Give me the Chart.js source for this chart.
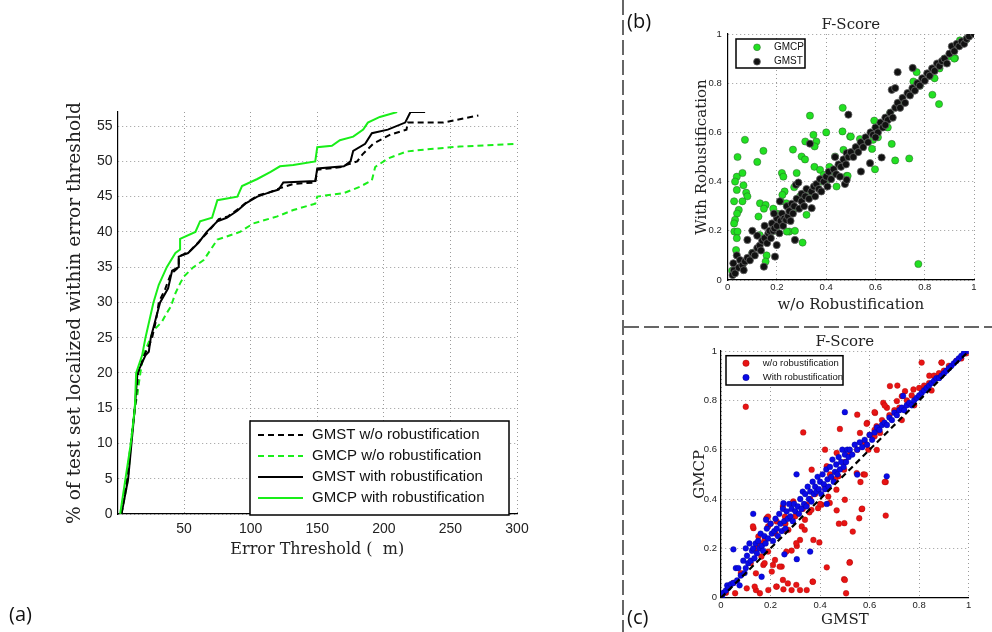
<!DOCTYPE html>
<html><head><meta charset="utf-8">
<script src="https://cdn.jsdelivr.net/npm/chart.js@4/dist/chart.umd.min.js"></script>
<style>
html,body{margin:0;padding:0;background:#fff;}
#wrap{position:relative;width:992px;height:632px;overflow:hidden;background:#fff;}
canvas{position:absolute;}
.lbl{position:absolute;font-family:"Open Sans","Noto Sans",sans-serif;font-size:20px;line-height:20px;color:#111;}
.vsep{position:absolute;left:622px;top:0;width:2px;height:632px;background:repeating-linear-gradient(to bottom,#666 0 15px,transparent 15px 20px);}
.hsep{position:absolute;left:624px;top:326px;width:368px;height:2px;background:repeating-linear-gradient(to right,#666 0 15px,transparent 15px 20px);}
</style></head>
<body><div id="wrap">
<canvas id="ca" width="600" height="632" style="left:0;top:0;width:600px;height:632px"></canvas>
<canvas id="cb" width="352" height="327" style="left:640px;top:0;width:352px;height:327px"></canvas>
<canvas id="cc" width="352" height="305" style="left:640px;top:327px;width:352px;height:305px"></canvas>
<div class="vsep"></div><div class="hsep"></div>
<div class="lbl" style="left:9px;top:604px">(a)</div>
<div class="lbl" style="left:627px;top:11px">(b)</div>
<div class="lbl" style="left:627px;top:607px">(c)</div>
</div>
<script>
// ---------- Panel (a): cumulative localization curves ----------
const xTicksA = [50,100,150,200,250,300];
const yTicksA = [0,5,10,15,20,25,30,35,40,45,50,55];
const gmstWo = [[3,0],[7,5],[10,10],[13,15],[15.5,20],[20,22.5],[24,24],[26,25],[29,27.5],[31,30],[36,32],[40,34],[46,35],[46,36.5],[54,37.2],[62,38.8],[68,40],[76,41.8],[83,42.2],[91,43.3],[97,44.2],[106,45.2],[114,45.6],[122,46.2],[132,46.8],[148.5,47],[150,48.8],[168,49.2],[172,49.5],[180,50],[184,51],[192,52.5],[205,53.8],[217,54.5],[218,55.5],[244.5,55.5],[271,56.5]];
const gmcpWo = [[3,0],[8,5],[10,10],[13,15],[15,17],[16,18.5],[18,21],[20,22.8],[27,26],[33.5,27.3],[37,28.5],[40,29.4],[43.5,31.3],[47,32.7],[50,33.7],[57,35],[64.7,36],[75,38.9],[92,40],[102,41.2],[120,42.2],[132,43.1],[148.5,44],[150,45],[170,45.5],[182,46.4],[191,47.3],[193.5,49.2],[203,50.4],[217,51.4],[232.5,51.7],[257,52.1],[300,52.5]];
const gmstWith = [[3,0],[8,5],[10.5,10],[13,15],[15,20],[21,22.5],[23.5,23],[25,25],[28.5,27.5],[32,30],[38,32],[41,34.5],[46,35],[46,36.5],[53,37],[61,38.5],[67,40],[75,41.5],[82,42],[90,43],[96,44],[105,45],[112.5,45.5],[121,46],[124.5,47],[148.5,47.2],[150,49],[170,49.3],[175,50],[177,51.5],[186,52.5],[191,54],[203,54.5],[216,55.5],[220,57],[231,57]];
const gmcpWith = [[2,0],[6,5],[10,10],[13,15],[14,20],[18.5,22.5],[21,25],[27,30],[31,32.5],[37,35],[43.5,37],[47,37.5],[47,39],[58.5,40],[62,41.5],[71,42],[75,44.5],[90,45],[93.5,46.5],[105,47.5],[115,48.5],[122,49.3],[132,49.5],[148.5,50],[150,52],[161,52.2],[167,53],[177,53.5],[184.5,54.5],[188,55.5],[197,56.3],[210,57]];

// ---------- Panel (b): F-Score, w/o vs with robustification ----------
const fTicks = [0,0.2,0.4,0.6,0.8,1];
const bGMCP = [[0.07,0.57],[0.04,0.50],[0.145,0.525],[0.12,0.48],[0.037,0.42],[0.03,0.40],[0.06,0.435],[0.064,0.385],[0.037,0.366],[0.075,0.355],[0.08,0.34],[0.026,0.32],[0.06,0.32],[0.045,0.285],[0.038,0.27],[0.03,0.245],[0.026,0.23],[0.027,0.197],[0.04,0.197],[0.037,0.17],[0.034,0.122],[0.018,0.038],[0.125,0.258],[0.131,0.312],[0.154,0.305],[0.147,0.29],[0.13,0.183],[0.158,0.10],[0.154,0.075],[0.185,0.29],[0.216,0.32],[0.22,0.435],[0.226,0.42],[0.231,0.36],[0.222,0.346],[0.238,0.312],[0.265,0.53],[0.27,0.377],[0.28,0.435],[0.30,0.502],[0.314,0.49],[0.315,0.563],[0.304,0.152],[0.25,0.197],[0.273,0.20],[0.32,0.265],[0.348,0.59],[0.36,0.563],[0.353,0.543],[0.352,0.46],[0.375,0.448],[0.40,0.60],[0.39,0.427],[0.413,0.46],[0.436,0.502],[0.442,0.38],[0.466,0.604],[0.497,0.583],[0.47,0.529],[0.483,0.423],[0.467,0.70],[0.334,0.668],[0.59,0.57],[0.586,0.533],[0.598,0.45],[0.666,0.553],[0.68,0.486],[0.737,0.494],[0.774,0.065],[0.767,0.845],[0.754,0.807],[0.831,0.753],[0.858,0.715],[0.595,0.648],[0.5,0.583],[0.537,0.573],[0.487,0.423],[0.38,0.40],[0.41,0.41],[0.294,0.34],[0.314,0.353],[0.256,0.27],[0.2,0.27],[0.197,0.2],[0.24,0.197],[0.06,0.06],[0.1,0.11],[0.15,0.16],[0.18,0.2],[0.22,0.24],[0.27,0.29],[0.33,0.35],[0.43,0.44],[0.52,0.53],[0.56,0.57],[0.62,0.63],[0.66,0.68],[0.7,0.72],[0.74,0.76],[0.78,0.79],[0.82,0.83],[0.86,0.86],[0.88,0.9],[0.9,0.91],[0.923,0.902],[0.943,0.974],[0.95,0.96],[0.97,0.98],[0.92,0.9],[0.84,0.82],[0.65,0.62],[0.61,0.58]];
const bGMST = [[0.02,0.02],[0.025,0.04],[0.03,0.027],[0.023,0.068],[0.037,0.10],[0.05,0.081],[0.045,0.05],[0.06,0.06],[0.065,0.04],[0.07,0.075],[0.08,0.09],[0.08,0.163],[0.09,0.08],[0.1,0.2],[0.1,0.11],[0.11,0.1],[0.12,0.13],[0.12,0.18],[0.13,0.14],[0.135,0.12],[0.14,0.16],[0.147,0.054],[0.15,0.17],[0.15,0.22],[0.16,0.15],[0.165,0.19],[0.17,0.2],[0.175,0.17],[0.18,0.23],[0.185,0.2],[0.19,0.21],[0.192,0.095],[0.199,0.142],[0.2,0.25],[0.2,0.22],[0.21,0.19],[0.212,0.32],[0.215,0.24],[0.22,0.27],[0.225,0.22],[0.23,0.25],[0.237,0.244],[0.188,0.27],[0.24,0.3],[0.245,0.26],[0.25,0.28],[0.255,0.24],[0.26,0.31],[0.265,0.27],[0.27,0.3],[0.273,0.163],[0.277,0.387],[0.287,0.396],[0.28,0.33],[0.29,0.29],[0.3,0.32],[0.3,0.35],[0.31,0.3],[0.315,0.34],[0.32,0.37],[0.33,0.33],[0.334,0.554],[0.34,0.36],[0.341,0.292],[0.35,0.38],[0.355,0.34],[0.36,0.39],[0.37,0.37],[0.375,0.41],[0.38,0.36],[0.39,0.4],[0.4,0.42],[0.405,0.38],[0.41,0.44],[0.42,0.41],[0.43,0.45],[0.436,0.5],[0.44,0.43],[0.45,0.47],[0.456,0.42],[0.46,0.46],[0.47,0.49],[0.476,0.39],[0.48,0.47],[0.483,0.407],[0.483,0.516],[0.49,0.672],[0.49,0.5],[0.5,0.52],[0.51,0.5],[0.52,0.54],[0.53,0.52],[0.54,0.56],[0.541,0.441],[0.55,0.54],[0.56,0.58],[0.57,0.56],[0.578,0.475],[0.58,0.6],[0.59,0.59],[0.6,0.62],[0.61,0.6],[0.625,0.498],[0.62,0.64],[0.63,0.62],[0.64,0.66],[0.65,0.65],[0.69,0.845],[0.66,0.68],[0.67,0.66],[0.666,0.773],[0.68,0.78],[0.68,0.7],[0.69,0.72],[0.7,0.7],[0.71,0.74],[0.72,0.72],[0.73,0.76],[0.74,0.75],[0.751,0.862],[0.75,0.78],[0.76,0.77],[0.77,0.8],[0.78,0.79],[0.79,0.82],[0.8,0.81],[0.81,0.84],[0.82,0.83],[0.83,0.86],[0.84,0.85],[0.85,0.88],[0.86,0.87],[0.87,0.89],[0.88,0.9],[0.89,0.88],[0.9,0.92],[0.91,0.95],[0.92,0.93],[0.93,0.96],[0.94,0.95],[0.95,0.97],[0.96,0.96],[0.97,0.98],[0.98,0.99],[1.0,1.0],[0.6,0.58],[0.64,0.63]];

// ---------- Panel (c): F-Score, GMST vs GMCP ----------
const cWo = [[0.1,0.774],[0.332,0.67],[0.48,0.684],[0.55,0.742],[0.59,0.709],[0.42,0.6],[0.467,0.587],[0.595,0.6],[0.575,0.5],[0.548,0.505],[0.497,0.519],[0.474,0.492],[0.427,0.533],[0.433,0.41],[0.406,0.377],[0.467,0.354],[0.568,0.359],[0.558,0.322],[0.665,0.333],[0.665,0.469],[0.498,0.302],[0.532,0.268],[0.52,0.144],[0.497,0.075],[0.505,0.018],[0.427,0.123],[0.397,0.224],[0.373,0.234],[0.37,0.065],[0.346,0.031],[0.319,0.031],[0.285,0.031],[0.252,0.034],[0.225,0.045],[0.191,0.031],[0.157,0.018],[0.141,0.031],[0.104,0.038],[0.057,0.018],[0.306,0.21],[0.319,0.234],[0.285,0.191],[0.245,0.126],[0.218,0.153],[0.171,0.133],[0.141,0.099],[0.205,0.106],[0.151,0.248],[0.131,0.282],[0.184,0.322],[0.225,0.309],[0.258,0.329],[0.272,0.275],[0.326,0.289],[0.339,0.316],[0.357,0.346],[0.346,0.377],[0.366,0.519],[0.682,0.858],[0.743,0.837],[0.777,0.844],[0.81,0.953],[0.89,0.953],[0.655,0.79],[0.67,0.77],[0.71,0.797],[0.622,0.749],[0.628,0.695],[0.642,0.668],[0.292,0.39],[0.25,0.072],[0.27,0.058],[0.304,0.052],[0.371,0.065],[0.223,0.045],[0.136,0.045],[0.257,0.275],[0.304,0.221],[0.264,0.187],[0.237,0.126],[0.21,0.133],[0.176,0.14],[0.163,0.167],[0.19,0.187],[0.129,0.289],[0.19,0.289],[0.19,0.329],[0.338,0.275],[0.365,0.356],[0.392,0.363],[0.439,0.384],[0.29,0.384],[0.466,0.438],[0.5,0.397],[0.25,0.37],[0.176,0.234],[0.156,0.221],[0.712,0.86],[0.73,0.817],[0.62,0.752],[0.661,0.779],[0.588,0.705],[0.629,0.599],[0.563,0.469],[0.661,0.469],[0.476,0.3],[0.519,0.142],[0.5,0.072],[0.57,0.361],[0.581,0.499],[0.62,0.654],[0.561,0.668],[0.841,0.9],[0.891,0.953],[0.02,0.02],[0.05,0.06],[0.08,0.1],[0.12,0.14],[0.14,0.2],[0.17,0.22],[0.2,0.3],[0.22,0.26],[0.26,0.3],[0.3,0.33],[0.33,0.36],[0.36,0.4],[0.38,0.42],[0.4,0.38],[0.42,0.45],[0.44,0.5],[0.46,0.48],[0.5,0.55],[0.52,0.58],[0.55,0.6],[0.58,0.63],[0.6,0.66],[0.62,0.68],[0.65,0.72],[0.68,0.74],[0.7,0.76],[0.72,0.77],[0.75,0.8],[0.77,0.82],[0.8,0.85],[0.82,0.86],[0.84,0.87],[0.86,0.9],[0.88,0.91],[0.9,0.92],[0.92,0.94],[0.95,0.96],[0.97,0.97],[0.99,0.99],[0.85,0.84],[0.78,0.78],[0.73,0.72]];
const cWith = [[0.005,0.0],[0.01,0.02],[0.02,0.03],[0.025,0.05],[0.03,0.04],[0.04,0.055],[0.05,0.196],[0.05,0.06],[0.06,0.12],[0.065,0.07],[0.07,0.12],[0.075,0.05],[0.08,0.09],[0.09,0.15],[0.095,0.1],[0.1,0.2],[0.1,0.12],[0.105,0.17],[0.11,0.14],[0.115,0.22],[0.12,0.15],[0.125,0.19],[0.13,0.34],[0.13,0.2],[0.135,0.16],[0.14,0.22],[0.145,0.18],[0.15,0.23],[0.155,0.2],[0.16,0.26],[0.164,0.085],[0.165,0.21],[0.17,0.19],[0.175,0.25],[0.18,0.22],[0.182,0.316],[0.185,0.28],[0.19,0.24],[0.2,0.3],[0.205,0.26],[0.21,0.23],[0.215,0.27],[0.22,0.32],[0.225,0.28],[0.23,0.25],[0.235,0.34],[0.24,0.3],[0.245,0.27],[0.25,0.36],[0.252,0.383],[0.255,0.31],[0.256,0.176],[0.26,0.28],[0.265,0.35],[0.27,0.32],[0.275,0.38],[0.28,0.33],[0.285,0.36],[0.29,0.31],[0.295,0.38],[0.3,0.35],[0.305,0.5],[0.306,0.156],[0.31,0.37],[0.315,0.34],[0.32,0.4],[0.325,0.36],[0.33,0.43],[0.335,0.38],[0.34,0.42],[0.345,0.37],[0.35,0.45],[0.355,0.4],[0.36,0.187],[0.36,0.43],[0.365,0.39],[0.37,0.47],[0.375,0.42],[0.38,0.45],[0.385,0.43],[0.39,0.49],[0.395,0.44],[0.4,0.47],[0.405,0.42],[0.41,0.5],[0.415,0.46],[0.42,0.44],[0.425,0.52],[0.427,0.38],[0.43,0.48],[0.435,0.45],[0.44,0.53],[0.445,0.49],[0.45,0.56],[0.455,0.47],[0.46,0.51],[0.465,0.54],[0.47,0.5],[0.475,0.57],[0.48,0.52],[0.485,0.55],[0.49,0.6],[0.495,0.53],[0.5,0.752],[0.5,0.58],[0.505,0.55],[0.51,0.6],[0.515,0.57],[0.52,0.6],[0.53,0.58],[0.54,0.62],[0.55,0.499],[0.55,0.6],[0.56,0.63],[0.57,0.61],[0.58,0.64],[0.59,0.62],[0.6,0.66],[0.61,0.64],[0.62,0.67],[0.63,0.69],[0.64,0.68],[0.65,0.7],[0.66,0.71],[0.669,0.492],[0.67,0.7],[0.68,0.73],[0.69,0.72],[0.7,0.75],[0.71,0.74],[0.72,0.76],[0.735,0.818],[0.73,0.77],[0.74,0.76],[0.75,0.78],[0.76,0.79],[0.77,0.78],[0.78,0.8],[0.79,0.81],[0.8,0.82],[0.81,0.83],[0.82,0.84],[0.83,0.85],[0.84,0.86],[0.85,0.87],[0.86,0.88],[0.87,0.89],[0.88,0.89],[0.89,0.9],[0.9,0.91],[0.91,0.92],[0.92,0.93],[0.93,0.94],[0.94,0.95],[0.95,0.96],[0.96,0.97],[0.97,0.98],[0.98,0.99],[1.0,1.0]];
const cDiag = [[0,0],[1,1]];

// ---------- helpers ----------
const xy = a => a.map(p => ({x:p[0], y:p[1]}));
const SANS = '"Liberation Sans", Arial, sans-serif';
const SERIF = '"DejaVu Serif", serif';
Chart.defaults.font.family = SANS;

const boxLegend = {
  id:'boxLegend',
  afterDatasetsDraw(chart, args, o){
    if(!o || !o.box) return;
    const ctx = chart.ctx;
    const [bx,by,bw,bh] = o.box;
    ctx.save();
    ctx.setLineDash([]);
    ctx.fillStyle = '#fff'; ctx.fillRect(bx,by,bw,bh);
    ctx.lineWidth = o.boxLine; ctx.strokeStyle = '#000'; ctx.strokeRect(bx,by,bw,bh);
    ctx.font = o.font; ctx.textBaseline = 'middle'; ctx.textAlign = 'left';
    o.order.forEach((di,i) => {
      const d = chart.data.datasets[di];
      const y = by + o.firstY + i*o.rowH;
      if (o.kind === 'line') {
        ctx.save();
        ctx.setLineDash(d.borderDash || []);
        ctx.strokeStyle = d.borderColor; ctx.lineWidth = d.borderWidth;
        ctx.beginPath(); ctx.moveTo(bx+o.lx0, y); ctx.lineTo(bx+o.lx1, y); ctx.stroke();
        ctx.restore();
      } else {
        ctx.beginPath(); ctx.arc(bx+o.mx, y, o.mr, 0, Math.PI*2);
        ctx.fillStyle = d.backgroundColor; ctx.fill();
        ctx.lineWidth = 0.8; ctx.strokeStyle = d.borderColor; ctx.stroke();
      }
      ctx.fillStyle = '#111';
      ctx.fillText(d.label, bx+o.tx, y);
    });
    ctx.restore();
  }
};

function axis(o){
  return {
    type:'linear', min:o.min, max:o.max,
    afterBuildTicks: s => { s.ticks = o.ticks.map(v => ({value:v})); },
    afterFit: s => { if (o.w !== undefined) s.width = o.w; if (o.h !== undefined) s.height = o.h; },
    grid:{color:'#9a9a9a', lineWidth:1, drawTicks:false},
    border:{color:'#000', width:1.2, dash:[1,3]},
    ticks:{padding:o.tp, font:{family:SANS, size:o.tfs}, color:'#222', maxRotation:0, autoSkip:false,
           callback: v => String(Math.round(v*1000)/1000)},
    title:{display:true, text:o.title, color:'#222', font:{family:SERIF, size:o.fs, weight:'normal'}, padding:o.titlePad}
  };
}

// ---------- chart (a) ----------
const axA = {
  x: axis({min:0, max:300, ticks:xTicksA, h:118, tp:7, tfs:14, title:'Error Threshold (  m)', fs:16, titlePad:{top:0,bottom:73}}),
  y: axis({min:0, max:57, ticks:yTicksA, w:117.5, tp:5, tfs:14, title:'% of test set localized within error threshold', fs:18.6, titlePad:{top:64,bottom:0}})
};
new Chart(document.getElementById('ca'), {
  type:'line',
  data:{datasets:[
    {label:'GMST w/o robustification', data:xy(gmstWo), borderColor:'#000', borderWidth:2, borderDash:[6,4], pointRadius:0, tension:0, order:3},
    {label:'GMCP w/o robustification', data:xy(gmcpWo), borderColor:'#19ee19', borderWidth:2, borderDash:[6,4], pointRadius:0, tension:0, order:4},
    {label:'GMST with robustification', data:xy(gmstWith), borderColor:'#000', borderWidth:2, pointRadius:0, tension:0, order:2},
    {label:'GMCP with robustification', data:xy(gmcpWith), borderColor:'#19ee19', borderWidth:2, pointRadius:0, tension:0, order:1}
  ]},
  options:{
    responsive:false, animation:false, events:[],
    layout:{padding:{left:0, top:112, right:83, bottom:0}},
    plugins:{legend:{display:false}, tooltip:{enabled:false},
      boxLegend:{box:[250,421,259,94], boxLine:1.5, kind:'line', order:[0,1,2,3], firstY:14, rowH:21, lx0:8, lx1:53, tx:62, font:'15px '+SANS}},
    scales: axA
  },
  plugins:[boxLegend]
});

// ---------- chart (b) ----------
new Chart(document.getElementById('cb'), {
  type:'scatter',
  data:{datasets:[
    {label:'GMCP', data:xy(bGMCP), backgroundColor:'#22e022', borderColor:'rgba(40,90,40,0.6)', borderWidth:0.8, pointRadius:3.6, order:2},
    {label:'GMST', data:xy(bGMST), backgroundColor:'#111', borderColor:'#666', borderWidth:0.8, pointRadius:3.6, order:1}
  ]},
  options:{
    responsive:false, animation:false, events:[],
    layout:{padding:{left:0, top:0, right:18, bottom:0}},
    plugins:{legend:{display:false}, tooltip:{enabled:false},
      title:{display:true, fullSize:false, text:'F-Score', color:'#222', font:{family:SERIF, size:15, weight:'normal'}, padding:{top:16, bottom:0}},
      boxLegend:{box:[96,39,69,29], boxLine:1.5, kind:'dot', order:[0,1], firstY:8.3, rowH:14.4, mx:21, mr:3.4, tx:38, font:'10px '+SANS}},
    scales:{
      x: axis({min:0, max:1, ticks:fTicks, h:47, tp:2, tfs:9.5, title:'w/o Robustification', fs:15, titlePad:{top:0,bottom:13}}),
      y: axis({min:0, max:1, ticks:fTicks, w:87.7, tp:6, tfs:9.5, title:'With Robustification', fs:15, titlePad:{top:53,bottom:0}})
    }
  },
  plugins:[boxLegend]
});

// ---------- chart (c) ----------
new Chart(document.getElementById('cc'), {
  type:'scatter',
  data:{datasets:[
    {label:'w/o robustification', data:xy(cWo), backgroundColor:'#e81414', borderColor:'rgba(150,0,0,0.5)', borderWidth:0.6, pointRadius:2.9, order:2},
    {label:'With robustification', data:xy(cWith), backgroundColor:'#0a0ae6', borderColor:'rgba(0,0,120,0.5)', borderWidth:0.6, pointRadius:2.9, order:1},
    {type:'line', label:'diag', data:xy(cDiag), borderColor:'#000', borderWidth:2.2, borderDash:[6,4], pointRadius:0, order:0}
  ]},
  options:{
    responsive:false, animation:false, events:[],
    layout:{padding:{left:0, top:0, right:23.3, bottom:0}},
    plugins:{legend:{display:false}, tooltip:{enabled:false},
      title:{display:true, fullSize:false, text:'F-Score', color:'#222', font:{family:SERIF, size:15, weight:'normal'}, padding:{top:6, bottom:0}},
      boxLegend:{box:[86,28.7,117,29.3], boxLine:1.5, kind:'dot', order:[0,1], firstY:7.5, rowH:14.3, mx:20, mr:3.2, tx:36.7, font:'9.5px '+SANS}},
    scales:{
      x: axis({min:0, max:1, ticks:fTicks, h:34.3, tp:2, tfs:9.5, title:'GMST', fs:15, titlePad:{top:0,bottom:3}}),
      y: axis({min:0, max:1, ticks:fTicks, w:81, tp:4, tfs:9.5, title:'GMCP', fs:15, titlePad:{top:51,bottom:0}})
    }
  },
  plugins:[boxLegend]
});
</script>
</body></html>
